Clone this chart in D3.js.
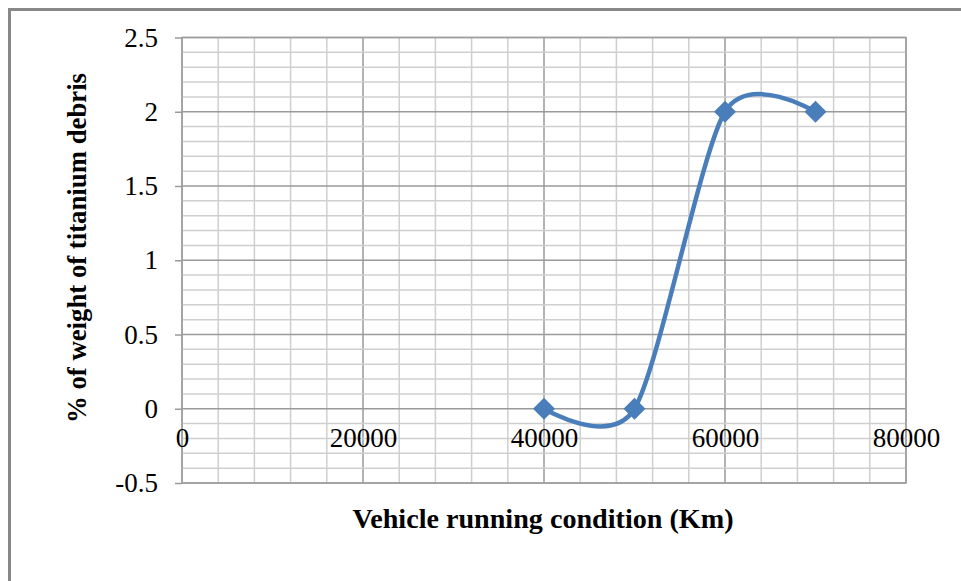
<!DOCTYPE html>
<html>
<head>
<meta charset="utf-8">
<script src="https://cdn.jsdelivr.net/npm/d3@7"></script>
<style>
  html, body { margin: 0; padding: 0; background: #fff; }
  svg { display: block; }
  text { font-family: "Liberation Serif", "Times New Roman", serif; fill: #000; }
</style>
</head>
<body>
<div id="chart"></div>
<script>
// Titanium debris vs. vehicle running distance (Excel-style smoothed scatter).
const distanceKm = [40000, 50000, 60000, 70000];
const debrisPct = [0, 0, 2, 2];
const xTicks = [0, 20000, 40000, 60000, 80000];
const yTicks = [-0.5, 0, 0.5, 1, 1.5, 2, 2.5];
const xTitle = 'Vehicle running condition (Km)';
const yTitle = '% of weight of titanium debris';

const W = 961, H = 581;
const plot = { left: 182, right: 906, top: 37.5, bottom: 483 };
const blue = '#4a7ebb';

const svg = d3.select('#chart').append('svg')
  .attr('width', W).attr('height', H);

// outer frame of the pasted figure
svg.append('path')
  .attr('d', `M9.5,${H} V9.5 H${W}`)
  .attr('fill', 'none').attr('stroke', '#888').attr('stroke-width', 3);

const x = d3.scaleLinear().domain([0, 80000]).range([plot.left, plot.right]);
const y = d3.scaleLinear().domain([-0.5, 2.5]).range([plot.bottom, plot.top]);

// gridlines: minor every 4000 / 0.1, major every 20000 / 0.5
const grid = svg.append('g');
grid.selectAll('line.v').data(d3.range(0, 80001, 4000)).join('line')
  .attr('x1', d => x(d)).attr('x2', d => x(d))
  .attr('y1', plot.top).attr('y2', plot.bottom)
  .attr('stroke', d => d % 20000 === 0 ? '#9a9a9a' : '#cfcfcf')
  .attr('stroke-width', 1.5);
grid.selectAll('line.h').data(d3.range(-5, 26).map(i => i / 10)).join('line')
  .attr('x1', plot.left).attr('x2', plot.right)
  .attr('y1', d => y(d)).attr('y2', d => y(d))
  .attr('stroke', d => Math.abs(d * 2 - Math.round(d * 2)) < 1e-6 ? '#9a9a9a' : '#cfcfcf')
  .attr('stroke-width', 1.5);

// plot border
svg.append('rect')
  .attr('x', plot.left).attr('y', plot.top)
  .attr('width', plot.right - plot.left).attr('height', plot.bottom - plot.top)
  .attr('fill', 'none').attr('stroke', '#a0a0a0').attr('stroke-width', 1.5);

// y axis: ticks + labels
const yAxis = svg.append('g').attr('transform', `translate(${plot.left},0)`)
  .call(d3.axisLeft(y).tickValues(yTicks).tickSize(7).tickPadding(24)
    .tickFormat(d => String(d)));
yAxis.select('.domain').remove();
yAxis.selectAll('line').attr('stroke', '#9a9a9a').attr('stroke-width', 1.5);
yAxis.selectAll('text').attr('font-size', 27).attr('x', -24);

// x axis labels sit under the zero line
const xAxis = svg.append('g').attr('transform', `translate(0,${y(0)})`)
  .call(d3.axisBottom(x).tickValues(xTicks).tickSize(0).tickPadding(19)
    .tickFormat(d => String(d)));
xAxis.select('.domain').remove();
xAxis.selectAll('text').attr('font-size', 27);

// smoothed series line
const pts = distanceKm.map((d, i) => [d, debrisPct[i]]);
svg.append('path')
  .datum(pts)
  .attr('fill', 'none').attr('stroke', blue).attr('stroke-width', 4.5)
  .attr('stroke-linecap', 'round')
  .attr('d', d3.line().x(d => x(d[0])).y(d => y(d[1])).curve(d3.curveCardinal.tension(0.2)));

// diamond markers
svg.selectAll('path.mk').data(pts).join('path')
  .attr('class', 'mk')
  .attr('transform', d => `translate(${x(d[0])},${y(d[1])})`)
  .attr('d', 'M0,-11 L11,0 L0,11 L-11,0 Z')
  .attr('fill', blue);

// axis titles
svg.append('text')
  .attr('x', 543).attr('y', 528)
  .attr('text-anchor', 'middle')
  .attr('font-size', 27).attr('font-weight', 'bold')
  .attr('textLength', 381).attr('lengthAdjust', 'spacingAndGlyphs')
  .text(xTitle);

svg.append('text')
  .attr('transform', 'translate(86,248) rotate(-90)')
  .attr('text-anchor', 'middle')
  .attr('font-size', 27).attr('font-weight', 'bold')
  .attr('textLength', 350).attr('lengthAdjust', 'spacingAndGlyphs')
  .text(yTitle);
</script>
</body>
</html>
